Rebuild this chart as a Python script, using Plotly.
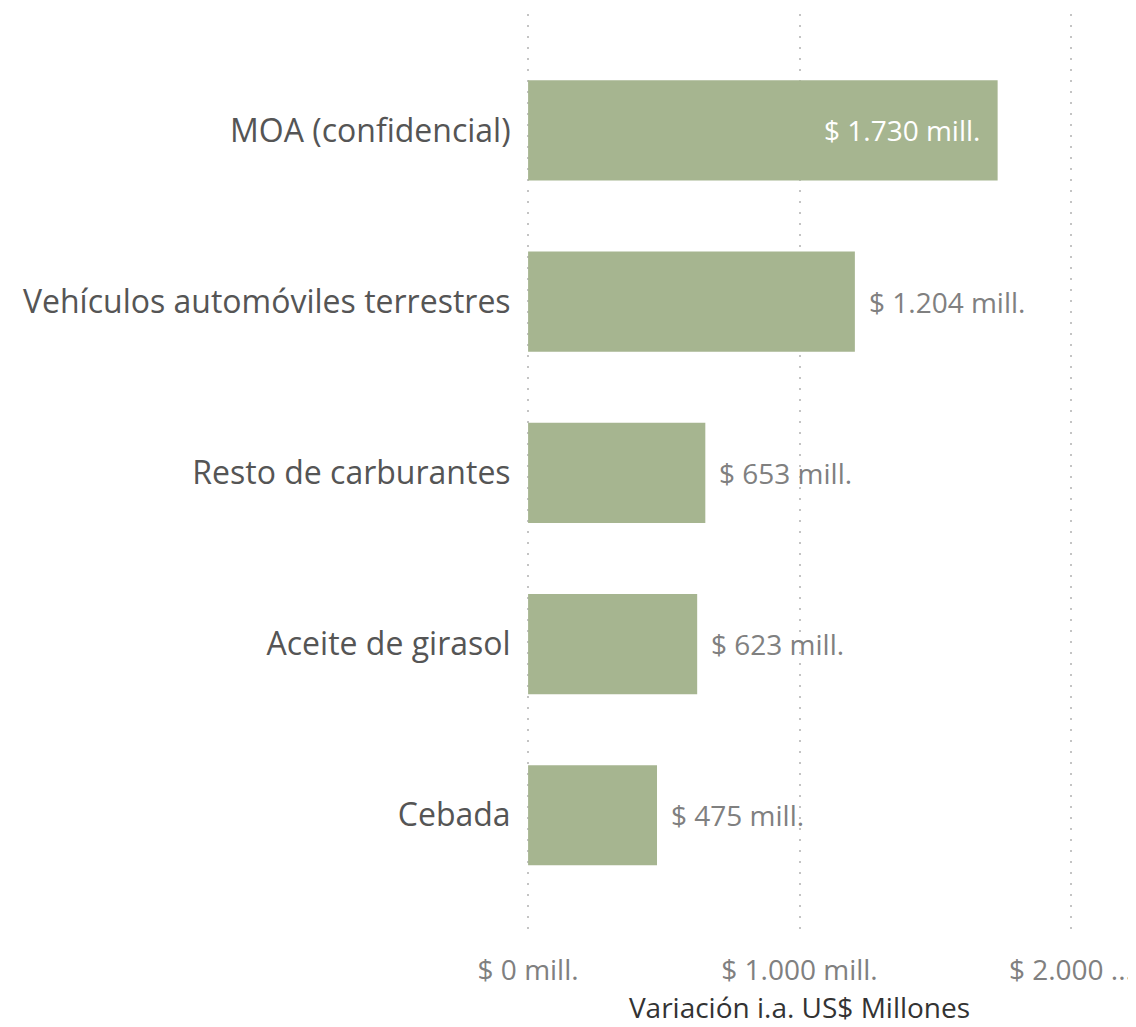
import plotly.graph_objects as go

categories = ["MOA (confidencial)", "Vehículos automóviles terrestres", "Resto de carburantes", "Aceite de girasol", "Cebada"]
values = [1730, 1204, 653, 623, 475]
labels = ["$ 1.730 mill.", "$ 1.204 mill.", "$ 653 mill.", "$ 623 mill.", "$ 475 mill."]
tick_vals = [0, 1000, 2000]
tick_text = ["$ 0 mill.", "$ 1.000 mill.", "$ 2.000 ..."]

FONT = "Open Sans"
fig = go.Figure()
fig.add_trace(go.Bar(
    y=categories, x=values, orientation="h",
    marker=dict(color="#a6b590", line=dict(width=0)),
    width=0.585,
    hoverinfo="skip",
))
for i, (c, v, t) in enumerate(zip(categories, values, labels)):
    inside = i == 0
    fig.add_annotation(
        x=v, y=c, text=t, showarrow=False,
        xanchor="right" if inside else "left",
        xshift=-16 if inside else 12,
        font=dict(size=28, color="#ffffff" if inside else "#808080", family=FONT),
    )
fig.update_layout(
    width=1136, height=1027,
    margin=dict(l=519, r=72, t=6, b=105),
    plot_bgcolor="white", paper_bgcolor="white",
    showlegend=False,
    font=dict(family=FONT),
    xaxis=dict(
        range=[-4, 2004], tickvals=tick_vals, ticktext=tick_text,
        showgrid=True, gridcolor="#c4c4c4", gridwidth=2, griddash="2px,9px",
        zeroline=False, showline=False, automargin=False,
        tickfont=dict(size=28, color="#808080", family=FONT),
        title=dict(text="Variación i.a. US$ Millones", font=dict(size=28, color="#333333", family=FONT), standoff=6),
        ticks="outside", ticklen=15, tickcolor="rgba(0,0,0,0)",
    ),
    yaxis=dict(
        categoryorder="array", categoryarray=categories,
        range=[4.67, -0.68],
        showgrid=False, zeroline=False, showline=False, automargin=False,
        tickfont=dict(size=32, color="#555555", family=FONT),
        ticks="outside", ticklen=9, tickcolor="rgba(0,0,0,0)",
    ),
)
fig.write_html("out.html")
